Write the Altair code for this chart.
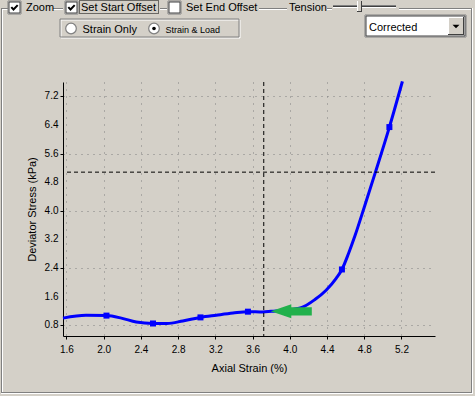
import altair as alt
import pandas as pd

# ---------------- data ----------------
curve_x = [1.563, 1.81, 2.03, 2.19, 2.35, 2.53, 2.68, 2.85, 3.04, 3.21, 3.39, 3.55,
           3.71, 3.80, 3.95, 4.13, 4.27, 4.39, 4.50, 4.56, 4.63, 4.70, 4.80, 4.92,
           5.07, 5.21]
curve_y = [1.00, 1.08, 1.07, 1.00, 0.89, 0.85, 0.85, 0.92, 1.02, 1.08, 1.14, 1.18,
           1.17, 1.19, 1.22, 1.30, 1.52, 1.78, 2.12, 2.36, 2.80, 3.30, 4.10, 5.08,
           6.34, 7.62]

marker_x = [2.03, 2.53, 3.04, 3.55, 4.56, 5.07]
marker_y = [1.07, 0.85, 1.02, 1.18, 2.36, 6.34]

start_offset_x = [3.72]
cross_y = [5.08]

arrow_x = [4.016]
arrow_y = [1.19]

x_ticks = [1.6, 1.8, 2.0, 2.2, 2.4, 2.6, 2.8, 3.0, 3.2, 3.4, 3.6, 3.8, 4.0, 4.2,
           4.4, 4.6, 4.8, 5.0, 5.2, 5.4]
y_ticks = [0.8, 1.2, 1.6, 2.0, 2.4, 2.8, 3.2, 3.6, 4.0, 4.4, 4.8, 5.2, 5.6, 6.0,
           6.4, 6.8, 7.2, 7.6]
y_label_values = [0.8, 1.6, 2.4, 3.2, 4.0, 4.8, 5.6, 6.4, 7.2]
y_label_texts = ["0.8", "1.6", "2.4", "3.2", "4.0", "4.8", "5.6", "6.4", "7.2"]

x_title = "Axial Strain (%)"
y_title = "Deviator Stress (kPa)"

# ---------------- layout ----------------
OX, OY = 63, 82          # plot origin on the page
W, H = 372, 254
BG = "#D4D0C8"
FONT = "Liberation Sans"
X_DOMAIN = [1.563, 5.56]
Y_DOMAIN = [0.5, 7.6]

xs = alt.Scale(domain=X_DOMAIN, nice=False, zero=False)
ys = alt.Scale(domain=Y_DOMAIN, nice=False, zero=False)

x_axis = alt.Axis(
    values=x_ticks,
    labelExpr="round(datum.value*10)%4==0 ? format(datum.value,'.1f') : ''",
    grid=True, gridColor="#808080", gridDash=[1, 6], gridWidth=1,
    domainColor="black", tickColor="black", tickSize=3,
    labelFont=FONT, labelFontSize=10, labelColor="black", labelPadding=5,
    labelFlush=False, labelOverlap=False,
    title=x_title, titleFont=FONT, titleFontSize=11, titleFontWeight="normal",
    titleColor="black", titleX=186, titleY=32, titleAlign="center",
    titleBaseline="middle",
)
y_axis = alt.Axis(
    values=y_ticks, labels=False,
    grid=True, gridColor="#808080", gridDash=[1, 5], gridWidth=1,
    domainColor="black", tickColor="black", tickSize=3,
    title=y_title, titleFont=FONT, titleFontSize=11, titleFontWeight="normal",
    titleColor="black", titleX=-31, titleY=127, titleAngle=270,
    titleAlign="center", titleBaseline="middle",
)

curve_df = pd.DataFrame({"x": curve_x, "y": curve_y})
marker_df = pd.DataFrame({"x": marker_x, "y": marker_y})

curve = alt.Chart(curve_df).mark_line(
    color="#0000FF", strokeWidth=3, interpolate="monotone"
).encode(x=alt.X("x:Q", scale=xs, axis=x_axis), y=alt.Y("y:Q", scale=ys, axis=y_axis))

markers = alt.Chart(marker_df).mark_square(size=36, color="#0000FF", opacity=1).encode(
    x=alt.X("x:Q", scale=xs), y=alt.Y("y:Q", scale=ys)
)

ylab = alt.Chart(pd.DataFrame({"y": y_label_values, "t": y_label_texts})).mark_text(
    font=FONT, fontSize=10, color="black", align="right", baseline="middle"
).encode(x=alt.value(-4.5), y=alt.Y("y:Q", scale=ys), text="t:N")

vrule = alt.Chart(pd.DataFrame({"x": start_offset_x})).mark_rule(
    color="black", strokeDash=[4, 3], strokeWidth=1
).encode(x=alt.X("x:Q", scale=xs))

hrule = alt.Chart(pd.DataFrame({"y": cross_y})).mark_rule(
    color="black", strokeDash=[4, 3], strokeWidth=1
).encode(y=alt.Y("y:Q", scale=ys))

ARROW = "M -1 0 L 0 -0.34 L 0 -0.2 L 1 -0.2 L 1 0.2 L 0 0.2 L 0 0.34 Z"
arrow = alt.Chart(pd.DataFrame({"x": arrow_x, "y": arrow_y})).mark_point(
    shape=ARROW, size=1681, filled=True, fill="#22B14C", opacity=1, strokeWidth=0
).encode(x=alt.X("x:Q", scale=xs), y=alt.Y("y:Q", scale=ys))

# ---------------- window chrome (page pixel coordinates) ----------------
G, Wt, D = "#808080", "#FFFFFF", "#404040"
rects = [
    # etched frame of the group box
    (1, 8, 2, 393, G, None), (2, 9, 3, 392, Wt, None),
    (1, 392, 472, 393, G, None), (1, 393, 473, 394, Wt, None),
    (471, 8, 472, 393, G, None), (472, 8, 473, 394, Wt, None),
    (1, 8, 8, 9, G, None), (2, 9, 8, 10, Wt, None),
    (53, 8, 63, 9, G, None), (53, 9, 63, 10, Wt, None),
    (160, 8, 167, 9, G, None), (160, 9, 167, 10, Wt, None),
    (259, 8, 287, 9, G, None), (259, 9, 287, 10, Wt, None),
    (327, 8, 332, 9, G, None), (327, 9, 332, 10, Wt, None),
    (399, 8, 472, 9, G, None), (399, 9, 471, 10, Wt, None),
    # slider track
    (333, 5, 396, 6, G, None), (333, 6, 396, 7, D, None), (333, 7, 396, 8, Wt, None),
    # radio group box (etched)
    (61, 20, 240, 38, None, Wt), (60, 19, 239, 37, None, G),
    # combo box
    (365, 15, 466, 37, "#FFFFFF", G), (366, 16, 465, 36, None, D),
    (448, 17, 464, 35, BG, None),
    (448, 17, 464, 18, Wt, None), (448, 17, 449, 35, Wt, None),
    (448, 34, 464, 35, D, None), (463, 17, 464, 35, D, None),
    # check boxes
    (8, 1, 21, 14, "#FFFFFF", G), (9, 2, 20, 13, None, D),
    (65, 1, 78, 14, "#FFFFFF", G), (66, 2, 77, 13, None, D),
    (168, 1, 181, 14, "#FFFFFF", G), (169, 2, 180, 13, None, D),
    # slider thumb
    (357, 1, 362, 12, BG, None), (357, 1, 358, 12, Wt, None),
    (361, 1, 362, 12, D, None), (357, 11, 362, 12, D, None),
]
rect_df = pd.DataFrame(
    [{"px": a - OX, "py": b - OY, "px2": c - OX, "py2": d - OY,
      "fill": f if f else "transparent", "stroke": s if s else "transparent"}
     for a, b, c, d, f, s in rects]
)
chrome_rects = alt.Chart(rect_df).mark_rect(strokeWidth=1).encode(
    x=alt.X("px:Q", scale=None, axis=None), x2="px2:Q",
    y=alt.Y("py:Q", scale=None, axis=None), y2="py2:Q",
    fill=alt.Fill("fill:N", scale=None),
    stroke=alt.Stroke("stroke:N", scale=None),
)

focus = alt.Chart(pd.DataFrame({"px": [79.5 - OX], "py": [0.5 - OY],
                                "px2": [158.5 - OX], "py2": [13.5 - OY]})).mark_rect(
    fill="transparent", stroke="black", strokeDash=[1, 1], strokeWidth=1
).encode(x=alt.X("px:Q", scale=None, axis=None), x2="px2:Q",
         y=alt.Y("py:Q", scale=None, axis=None), y2="py2:Q")

CHECK = "M -0.8 -0.1 L -0.25 0.5 L 0.8 -0.6"
checks = alt.Chart(pd.DataFrame({"px": [14.5 - OX, 71.5 - OX], "py": [7.5 - OY, 7.5 - OY]})).mark_point(
    shape=CHECK, size=64, filled=False, stroke="black", strokeWidth=2, opacity=1
).encode(x=alt.X("px:Q", scale=None, axis=None), y=alt.Y("py:Q", scale=None, axis=None))

radios = alt.Chart(pd.DataFrame({"px": [71 - OX, 154 - OX], "py": [28.5 - OY, 28.5 - OY]})).mark_point(
    shape="circle", size=113, filled=True, fill="#FFFFFF", stroke=G, strokeWidth=1.2, opacity=1
).encode(x=alt.X("px:Q", scale=None, axis=None), y=alt.Y("py:Q", scale=None, axis=None))

radio_dot = alt.Chart(pd.DataFrame({"px": [154 - OX], "py": [28.5 - OY]})).mark_point(
    shape="circle", size=13, filled=True, fill="black", strokeWidth=0, opacity=1
).encode(x=alt.X("px:Q", scale=None, axis=None), y=alt.Y("py:Q", scale=None, axis=None))

TRI = "M -1 -0.5 L 1 -0.5 L 0 0.5 Z"
drop = alt.Chart(pd.DataFrame({"px": [456 - OX], "py": [26.5 - OY]})).mark_point(
    shape=TRI, size=49, filled=True, fill="black", strokeWidth=0, opacity=1
).encode(x=alt.X("px:Q", scale=None, axis=None), y=alt.Y("py:Q", scale=None, axis=None))

labels11 = pd.DataFrame({
    "t": ["Zoom", "Set Start Offset", "Set End Offset", "Tension", "Strain Only", "Corrected"],
    "px": [26 - OX, 81 - OX, 186 - OX, 289 - OX, 82.5 - OX, 369 - OX],
    "py": [11 - OY, 11 - OY, 11 - OY, 11 - OY, 33 - OY, 30.5 - OY],
})
text11 = alt.Chart(labels11).mark_text(
    font=FONT, fontSize=11, color="black", align="left", baseline="alphabetic"
).encode(x=alt.X("px:Q", scale=None, axis=None), y=alt.Y("py:Q", scale=None, axis=None), text="t:N")

labels9 = pd.DataFrame({"t": ["Strain & Load"], "px": [165.5 - OX], "py": [32.5 - OY]})
text9 = alt.Chart(labels9).mark_text(
    font=FONT, fontSize=9, color="black", align="left", baseline="alphabetic"
).encode(x=alt.X("px:Q", scale=None, axis=None), y=alt.Y("py:Q", scale=None, axis=None), text="t:N")

chart = alt.layer(
    curve, vrule, hrule, markers, arrow, ylab,
    chrome_rects, focus, checks, radios, radio_dot, drop, text11, text9,
).properties(
    width=W, height=H,
    autosize=alt.AutoSizeParams(type="none"),
    padding={"left": OX, "top": OY, "right": 475 - OX - W, "bottom": 396 - OY - H},
    background=BG,
).configure_view(stroke=None)

chart.save("out.html", embed_options={"renderer": "svg", "actions": False})
